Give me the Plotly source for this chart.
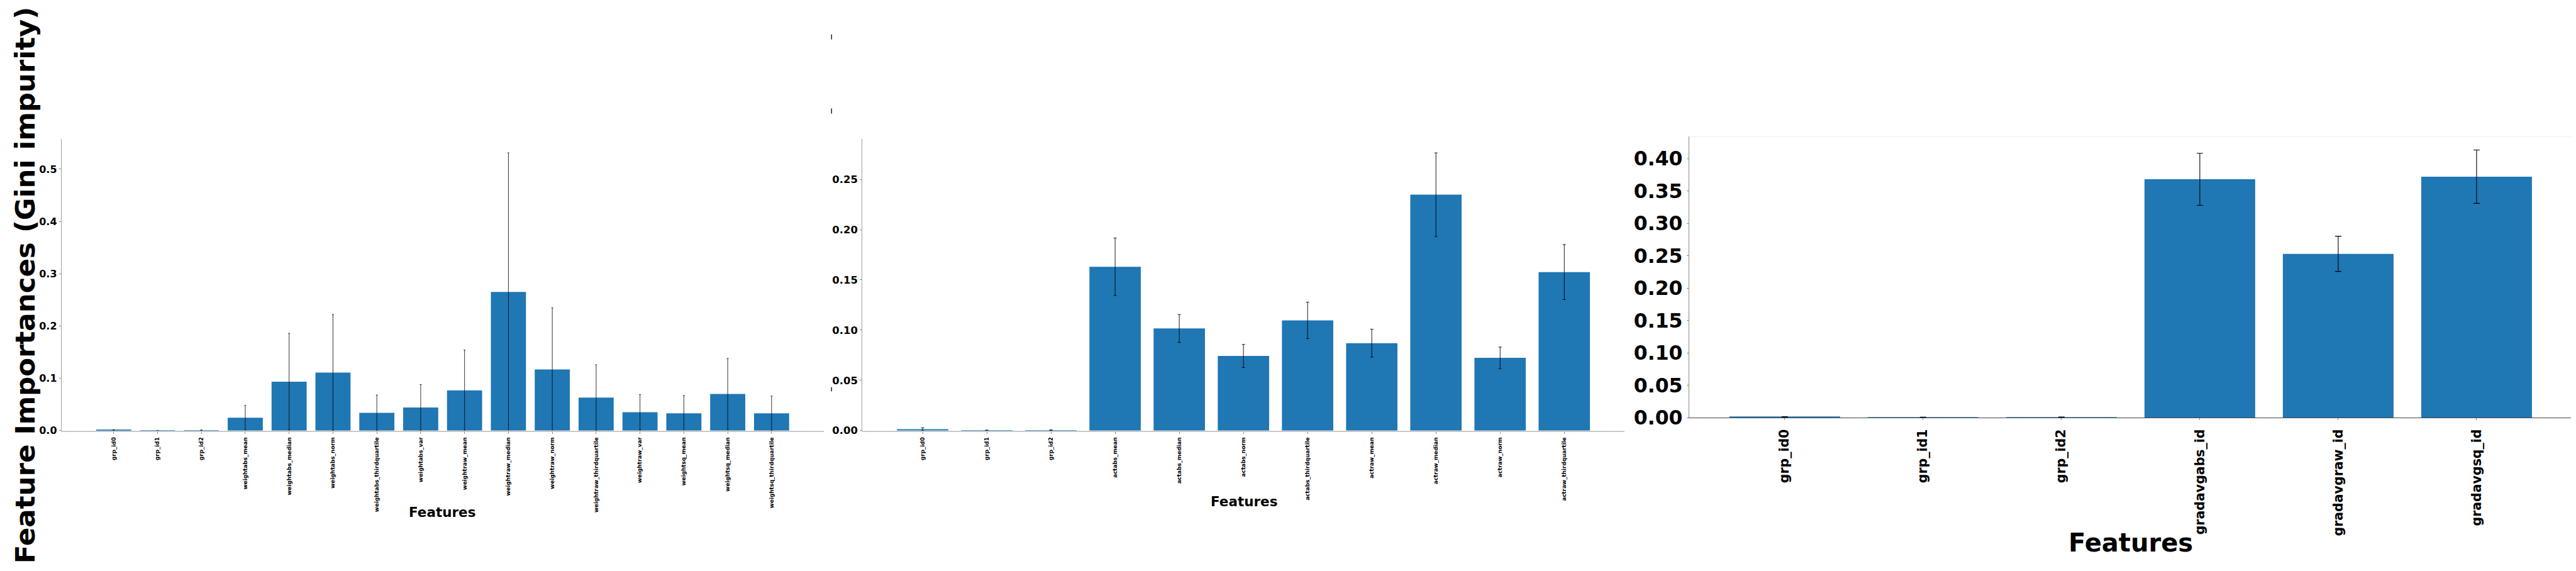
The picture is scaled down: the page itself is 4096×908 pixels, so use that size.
import plotly.graph_objects as go

# ---------------- data ----------------
features1 = ["grp_id0", "grp_id1", "grp_id2", "weightabs_mean", "weightabs_median",
             "weightabs_norm", "weightabs_thirdquartile", "weightabs_var",
             "weightraw_mean", "weightraw_median", "weightraw_norm",
             "weightraw_thirdquartile", "weightraw_var", "weightsq_mean",
             "weightsq_median", "weightsq_thirdquartile"]
imp1 = [0.0010, 0.0002, 0.0008, 0.0246, 0.0935, 0.111, 0.034, 0.044,
        0.077, 0.265, 0.117, 0.063, 0.035, 0.033, 0.070, 0.033]
err1 = [0.0008, 0.0002, 0.0006, 0.0234, 0.0925, 0.111, 0.034, 0.044,
        0.077, 0.266, 0.118, 0.063, 0.034, 0.034, 0.068, 0.033]

features2 = ["grp_id0", "grp_id1", "grp_id2", "actabs_mean", "actabs_median",
             "actabs_norm", "actabs_thirdquartile", "actraw_mean",
             "actraw_median", "actraw_norm", "actraw_thirdquartile"]
imp2 = [0.0014, 0.0003, 0.0004, 0.163, 0.1016, 0.0742, 0.1097, 0.087,
        0.2347, 0.0724, 0.1577]
err2 = [0.0014, 0.0002, 0.0003, 0.0286, 0.0139, 0.0115, 0.0181, 0.0139,
        0.0416, 0.0107, 0.0274]

features3 = ["grp_id0", "grp_id1", "grp_id2", "gradavgabs_id", "gradavgraw_id",
             "gradavgsq_id"]
imp3 = [0.0013, 0.0006, 0.0007, 0.3681, 0.2530, 0.3721]
err3 = [0.0003, 0.0004, 0.0004, 0.0402, 0.0272, 0.0412]

y_title = "Feature Importances (Gini impurity)"
x_title = "Features"

# ---------------- styling ----------------
W, H = 4883.0, 1082.0
FONT = "DejaVu Sans"
BAR = "#1f77b4"


def px(xf):
    return xf / W


def py(yf):
    return 1 - yf / H


fig = go.Figure()


def add_panel(idx, feats, vals, errs, cap, ethick):
    xs = list(range(len(feats)))
    fig.add_trace(go.Bar(
        x=xs, y=vals, marker=dict(color=BAR, line=dict(width=0)),
        error_y=dict(type="data", array=errs, visible=True, color="black",
                     thickness=ethick, width=cap),
        xaxis="x" if idx == 1 else f"x{idx}",
        yaxis="y" if idx == 1 else f"y{idx}",
        showlegend=False,
    ))


add_panel(1, features1, imp1, err1, 1.5, 0.8)
add_panel(2, features2, imp2, err2, 2.5, 0.9)
add_panel(3, features3, imp3, err3, 5, 1.1)


def xaxis(domain, anchor, n, feats, size, linecolor, linewidth, standoff):
    return dict(domain=domain, anchor=anchor, range=[-0.4 - 0.05 * (n - 0.2), n - 0.6 + 0.05 * (n - 0.2)],
                tickmode="array", tickvals=list(range(n)), ticktext=feats,
                tickangle=-90, showgrid=False, zeroline=False,
                showline=True, linecolor=linecolor, linewidth=linewidth,
                ticks="outside", ticklen=3, tickwidth=1, tickcolor="#888888",
                ticklabelstandoff=standoff,
                tickfont=dict(family=FONT, size=size, color="black", weight="bold"),
                fixedrange=True)


def yaxis(domain, anchor, top, dtick, fmt, size, linecolor, linewidth):
    return dict(domain=domain, anchor=anchor, range=[0, top], dtick=dtick,
                tick0=0, tickformat=fmt, showgrid=False, zeroline=False,
                showline=True, linecolor=linecolor, linewidth=linewidth,
                ticks="outside", ticklen=3, tickwidth=1, tickcolor="#888888",
                tickfont=dict(family=FONT, size=size, color="black", weight="bold"),
                fixedrange=True)


top1 = max(v + e for v, e in zip(imp1, err1)) * 1.05
top2 = max(v + e for v, e in zip(imp2, err2)) * 1.05
top3 = max(v + e for v, e in zip(imp3, err3)) * 1.05

fig.update_layout(
    width=4096, height=908,
    margin=dict(l=0, r=0, t=0, b=0),
    paper_bgcolor="white", plot_bgcolor="white",
    bargap=0.2,
    xaxis=xaxis([px(107), px(1552)], "y", len(features1), features1, 8.8, "#c8c8c8", 2, 2),
    yaxis=yaxis([py(822.7), py(259)], "x", top1, 0.1, ".1f", 16, "#a0a0a0", 1),
    xaxis2=xaxis([px(1625), px(3070)], "y2", len(features2), features2, 8.8, "#c8c8c8", 2, 2),
    yaxis2=yaxis([py(822.7), py(259)], "x2", top2, 0.05, ".2f", 16.4, "#a0a0a0", 1),
    xaxis3=xaxis([px(3192.5), px(4866)], "y3", len(features3), features3, 20.5, "#444444", 1.2, 6),
    yaxis3=yaxis([py(797.8), py(254.4)], "x3", top3, 0.05, ".2f", 31.5, "#888888", 1.2),
)

ann = []
ann.append(dict(text=y_title, x=px(39), y=py(541.5), xref="paper", yref="paper",
                showarrow=False, textangle=-90, xanchor="center", yanchor="middle",
                font=dict(family=FONT, size=43.5, color="black", weight="bold")))
ann.append(dict(text=x_title, x=px(829), y=py(981), xref="paper", yref="paper",
                showarrow=False, xanchor="center", yanchor="middle",
                font=dict(family=FONT, size=21.5, color="black", weight="bold")))
ann.append(dict(text=x_title, x=px(2348), y=py(960), xref="paper", yref="paper",
                showarrow=False, xanchor="center", yanchor="middle",
                font=dict(family=FONT, size=21.5, color="black", weight="bold")))
ann.append(dict(text=x_title, x=px(4029), y=py(1039), xref="paper", yref="paper",
                showarrow=False, xanchor="center", yanchor="middle",
                font=dict(family=FONT, size=40, color="black", weight="bold")))
fig.update_layout(annotations=ann)

shapes = []
# faint top spine of the third panel
shapes.append(dict(type="line", xref="x3 domain", yref="y3 domain", x0=0, x1=1, y0=1, y1=1,
                   line=dict(color="#eeeeee", width=1)))
# stray small tick marks between first and second panels
for y0, y1 in [(56.7, 66.7), (200, 210), (739, 746.7)]:
    shapes.append(dict(type="line", xref="paper", yref="paper", x0=px(1566.7), x1=px(1566.7),
                       y0=py(y0), y1=py(y1), line=dict(color="black", width=1.3)))
fig.update_layout(shapes=shapes)

fig.write_html("out.html")
